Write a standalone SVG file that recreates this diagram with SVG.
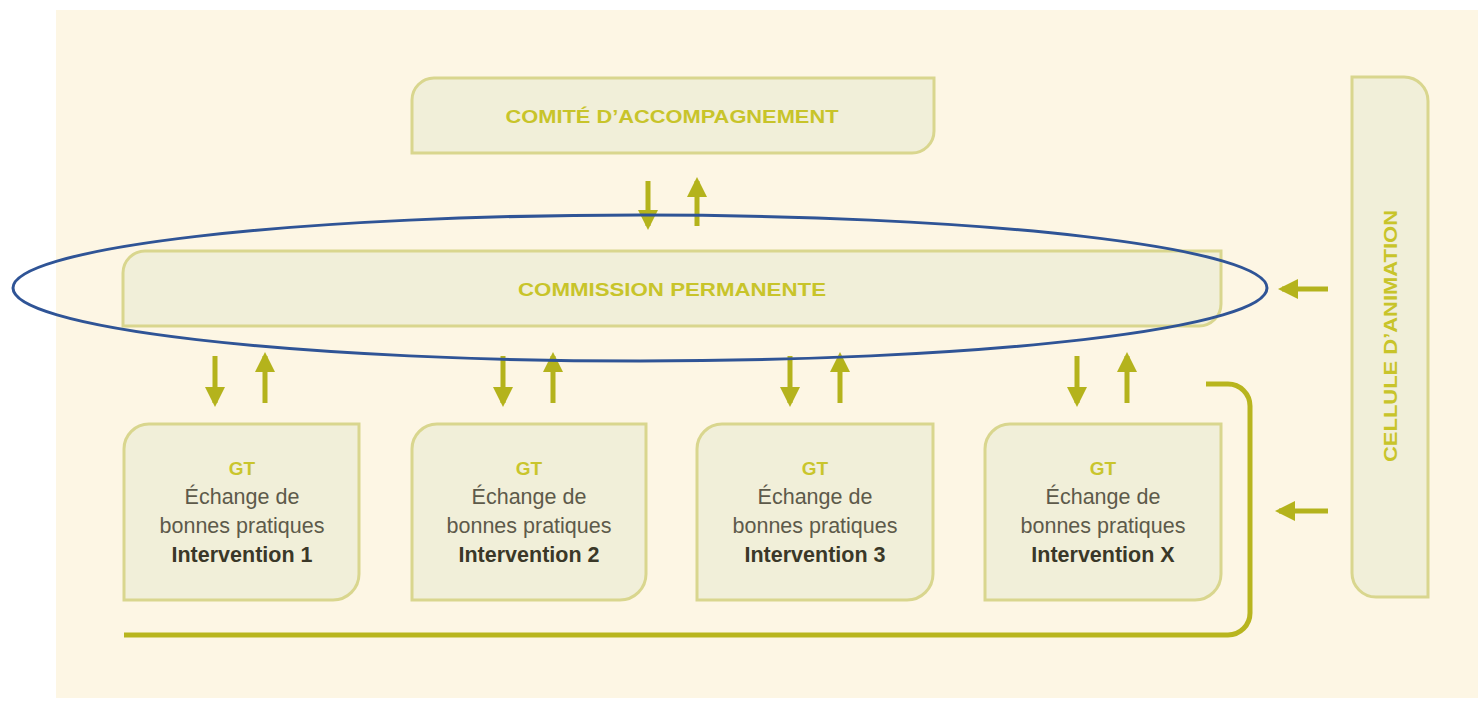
<svg xmlns="http://www.w3.org/2000/svg" width="1478" height="701" viewBox="0 0 1478 701">
<defs>
<style>
.bg{fill:#fdf6e4}
.box{fill:#f1efd9;stroke:#d9d68e;stroke-width:3}
.title{font-family:"Liberation Sans",Arial,sans-serif;font-weight:bold;fill:#c8c42a;text-anchor:middle}
.gt{font-family:"Liberation Sans",Arial,sans-serif;font-weight:bold;fill:#c9c52c;text-anchor:middle;font-size:19px}
.txt{font-family:"Liberation Sans",Arial,sans-serif;fill:#5d5a4a;text-anchor:middle;font-size:21.5px}
.btxt{font-family:"Liberation Sans",Arial,sans-serif;font-weight:bold;fill:#3a3828;text-anchor:middle;font-size:21.5px}
.arr{stroke:#b4b31c;stroke-width:5;fill:none;marker-end:url(#ah)}
.loop{stroke:#b8b51e;stroke-width:5;fill:none}
</style>
<marker id="ah" viewBox="0 0 10 10" refX="8" refY="5" markerWidth="4" markerHeight="4" markerUnits="strokeWidth" orient="auto">
<path d="M0,0 L10,5 L0,10 Z" fill="#b4b31c"/>
</marker>
</defs>
<rect class="bg" x="56" y="10" width="1422" height="688"/>

<g id="comite">
<path class="box" d="M434,78 H934 V131 A22,22 0 0 1 912,153 H412 V100 A22,22 0 0 1 434,78 Z"/>
<text class="title" x="672" y="123" font-size="19" textLength="333" lengthAdjust="spacingAndGlyphs">COMITÉ D’ACCOMPAGNEMENT</text>
</g>

<g id="commission">
<path class="box" d="M145,251 H1221 V304 A22,22 0 0 1 1199,326 H123 V273 A22,22 0 0 1 145,251 Z"/>
<text class="title" x="672" y="296" font-size="19" textLength="308" lengthAdjust="spacingAndGlyphs">COMMISSION PERMANENTE</text>
</g>

<g id="gt1">
<path class="box" d="M149,424 H359 V574 A26,26 0 0 1 333,600 H124 V449 A25,25 0 0 1 149,424 Z"/>
<text class="gt" x="242" y="475">GT</text>
<text class="txt" x="242" y="504">Échange de</text>
<text class="txt" x="242" y="533">bonnes pratiques</text>
<text class="btxt" x="242" y="562">Intervention 1</text>
</g>

<g id="gt2">
<path class="box" d="M437,424 H646 V574 A26,26 0 0 1 620,600 H412 V449 A25,25 0 0 1 437,424 Z"/>
<text class="gt" x="529" y="475">GT</text>
<text class="txt" x="529" y="504">Échange de</text>
<text class="txt" x="529" y="533">bonnes pratiques</text>
<text class="btxt" x="529" y="562">Intervention 2</text>
</g>

<g id="gt3">
<path class="box" d="M722,424 H933 V574 A26,26 0 0 1 907,600 H697 V449 A25,25 0 0 1 722,424 Z"/>
<text class="gt" x="815" y="475">GT</text>
<text class="txt" x="815" y="504">Échange de</text>
<text class="txt" x="815" y="533">bonnes pratiques</text>
<text class="btxt" x="815" y="562">Intervention 3</text>
</g>

<g id="gtx">
<path class="box" d="M1010,424 H1221 V574 A26,26 0 0 1 1195,600 H985 V449 A25,25 0 0 1 1010,424 Z"/>
<text class="gt" x="1103" y="475">GT</text>
<text class="txt" x="1103" y="504">Échange de</text>
<text class="txt" x="1103" y="533">bonnes pratiques</text>
<text class="btxt" x="1103" y="562">Intervention X</text>
</g>

<g id="cellule">
<path class="box" d="M1352,77 H1404 A24,24 0 0 1 1428,101 V597 H1376 A24,24 0 0 1 1352,573 Z"/>
<text class="title" x="0" y="0" font-size="19" textLength="252" lengthAdjust="spacingAndGlyphs" transform="translate(1397,336) rotate(-90)">CELLULE D’ANIMATION</text>
</g>

<g id="connectors">
<line class="arr" x1="648" y1="181" x2="648" y2="226"/>
<line class="arr" x1="697" y1="226" x2="697" y2="181"/>
<line class="arr" x1="215" y1="356" x2="215" y2="403"/>
<line class="arr" x1="265" y1="403" x2="265" y2="356"/>
<line class="arr" x1="503" y1="356" x2="503" y2="403"/>
<line class="arr" x1="553" y1="403" x2="553" y2="356"/>
<line class="arr" x1="790" y1="356" x2="790" y2="403"/>
<line class="arr" x1="840" y1="403" x2="840" y2="356"/>
<line class="arr" x1="1077" y1="356" x2="1077" y2="403"/>
<line class="arr" x1="1127" y1="403" x2="1127" y2="356"/>
<line class="arr" x1="1328" y1="289" x2="1282" y2="289"/>
<line class="arr" x1="1328" y1="511" x2="1279" y2="511"/>
<path class="loop" d="M1206,384 H1228 A22,22 0 0 1 1250,406 V613 A22,22 0 0 1 1228,635 H124"/>
</g>

<g id="highlight">
<ellipse cx="640" cy="288" rx="627" ry="73" fill="none" stroke="#2f5496" stroke-width="3"/>
</g>
</svg>
